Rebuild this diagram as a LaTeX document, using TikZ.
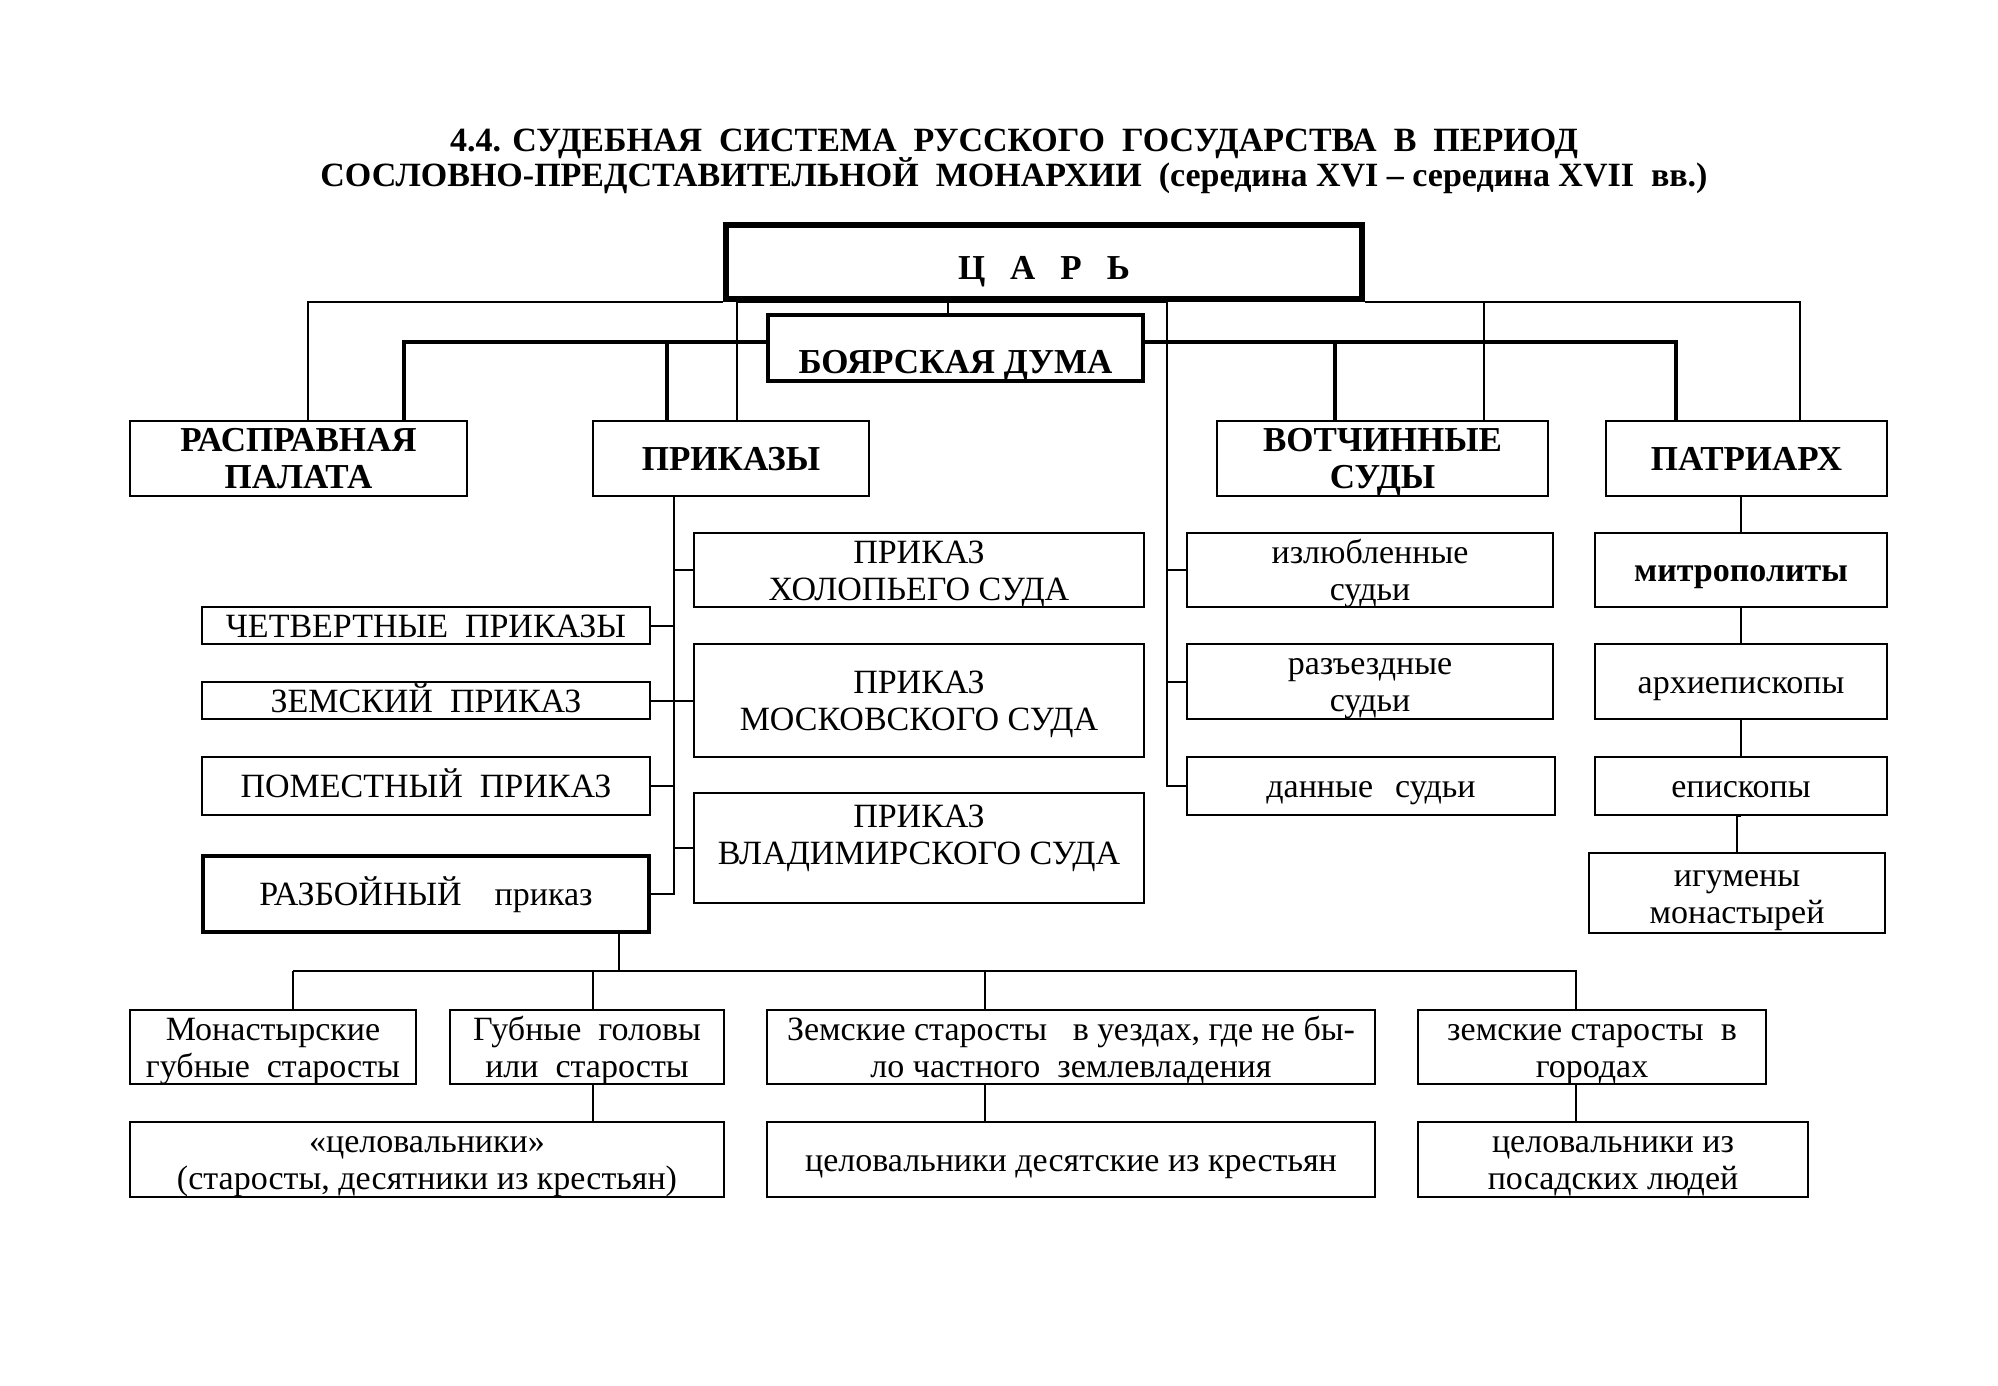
\documentclass[tikz,border=0pt]{standalone}
\usepackage{fontspec}
\setmainfont{Liberation Serif}

\begin{document}
\begin{tikzpicture}[x=1pt,y=-1pt,line width=2pt,
    box/.style={draw,line width=2.4pt,align=center,inner sep=1pt,
                text height=23pt,text depth=0pt,
                font=\fontsize{34}{37}\selectfont},
    two/.style={text height=60pt},
    head/.style={box,font=\fontsize{35}{37}\selectfont\bfseries},
    bold line/.style={line width=3.2pt}]

  \useasboundingbox[fill=white] (0,0) rectangle (1998,1385);

  % title
  \node[anchor=base,font=\fontsize{34}{36}\selectfont\bfseries] (title1) at (1014,151)
    {4.4. СУДЕБНАЯ\ \ СИСТЕМА\ \ РУССКОГО\ \ ГОСУДАРСТВА\ \ В\ \ ПЕРИОД};
  \node[anchor=base,font=\fontsize{34}{36}\selectfont\bfseries] (title2) at (1014,186)
    {СОСЛОВНО-ПРЕДСТАВИТЕЛЬНОЙ\ \ МОНАРХИИ\ \ (середина XVI -- середина XVII\ \ вв.)};

  % top
  \node[head,line width=6pt,minimum width=636pt,minimum height=74pt,
        text height=34pt] (tsar) at (1044,262)
    {Ц\hspace{25pt}А\hspace{25pt}Р\hspace{25pt}Ь};
  \node[head,line width=3.5pt,minimum width=375pt,minimum height=66pt,
        text height=50pt] (duma) at (955.5,348)
    {БОЯРСКАЯ ДУМА};

  \node[head,two,minimum width=337pt,minimum height=75pt] (rasp)  at (298.5,458.5) {РАСПРАВНАЯ\\ПАЛАТА};
  \node[head,minimum width=276pt,minimum height=75pt] (prik)  at (731,458.5)   {ПРИКАЗЫ};
  \node[head,two,minimum width=331pt,minimum height=75pt] (votch) at (1382.5,458.5) {ВОТЧИННЫЕ\\СУДЫ};
  \node[head,minimum width=281pt,minimum height=75pt] (patr)  at (1746.5,458.5) {ПАТРИАРХ};

  % prikazy
  \node[box,minimum width=448pt,minimum height=37pt] (chetv)  at (426,625.5) {ЧЕТВЕРТНЫЕ\ \ ПРИКАЗЫ};
  \node[box,minimum width=448pt,minimum height=37pt] (zemsk)  at (426,700.5) {ЗЕМСКИЙ\ \ ПРИКАЗ};
  \node[box,minimum width=448pt,minimum height=58pt] (pomest) at (426,786)   {ПОМЕСТНЫЙ\ \ ПРИКАЗ};
  \node[box,line width=4.5pt,minimum width=446pt,minimum height=76pt] (razb) at (426,894)
    {РАЗБОЙНЫЙ\hspace{33pt}приказ};
  \node[box,two,minimum width=450pt,minimum height=74pt]  (khol) at (919,570)   {ПРИКАЗ\\ХОЛОПЬЕГО СУДА};
  \node[box,two,minimum width=450pt,minimum height=113pt] (mosk) at (919,700.5) {ПРИКАЗ\\МОСКОВСКОГО СУДА};
  \node[box,text height=33pt,minimum width=450pt,minimum height=110pt] (vlad) at (919,848)
    {ПРИКАЗ\\ВЛАДИМИРСКОГО СУДА};

  % sudi
  \node[box,two,minimum width=366pt,minimum height=74pt] (izl)  at (1370,570)   {излюбленные\\судьи};
  \node[box,two,minimum width=366pt,minimum height=75pt] (razj) at (1370,681.5) {разъездные\\судьи};
  \node[box,minimum width=368pt,minimum height=58pt] (dan)  at (1371,786)   {данные\hspace{22pt}судьи};

  % church
  \node[box,minimum width=292pt,minimum height=74pt] (mitr)  at (1741,570)   {\textbf{митрополиты}};
  \node[box,minimum width=292pt,minimum height=75pt] (arkh)  at (1741,681.5) {архиепископы};
  \node[box,minimum width=292pt,minimum height=58pt] (episk) at (1741,786)   {епископы};
  \node[box,two,minimum width=296pt,minimum height=80pt] (igum)  at (1737,893)   {игумены\\монастырей};

  % bottom
  \node[box,two,minimum width=286pt,minimum height=74pt] (mon)  at (273,1047)  {Монастырские\\губные\ \ старосты};
  \node[box,two,minimum width=274pt,minimum height=74pt] (gub)  at (587,1047)  {Губные\ \ головы\\или\ \ старосты};
  \node[box,two,minimum width=608pt,minimum height=74pt] (zemu) at (1071,1047) {Земские старосты\ \ \ в уездах, где не бы-\\ло частного\ \ землевладения};
  \node[box,two,minimum width=348pt,minimum height=74pt] (gor)  at (1592,1047) {земские старосты\ \ в\\городах};
  \node[box,two,minimum width=594pt,minimum height=75pt] (tsel1) at (427,1159.5)  {«целовальники»\\(старосты, десятники из крестьян)};
  \node[box,minimum width=608pt,minimum height=75pt] (tsel2) at (1071,1159.5) {целовальники десятские из крестьян};
  \node[box,two,minimum width=390pt,minimum height=75pt] (tsel3) at (1613,1159.5) {целовальники из\\посадских людей};

  % tsar lines
  \draw ([xshift=-7.5pt]duma.north) |- (tsar.south);
  \draw (tsar.south west) -| ([xshift=9.5pt]rasp.north);
  \draw ([xshift=6pt]prik.north) |- (tsar.south);
  \draw (tsar.south east) -| ([xshift=53.5pt]patr.north);
  \draw ([xshift=101.5pt]votch.north) |- (tsar.south east);

  % duma lines
  \draw[bold line] ([yshift=6pt]duma.west) -| ([xshift=105.5pt]rasp.north);
  \draw[bold line] ([xshift=-64pt]prik.north) |- ([yshift=6pt]duma.west);
  \draw[bold line] ([yshift=6pt]duma.east) -| ([xshift=-70.5pt]patr.north);
  \draw[bold line] ([xshift=-47.5pt]votch.north) |- ([yshift=6pt]duma.east);

  % prikazy lines
  \coordinate (pv) at ([xshift=-57pt]prik.south);
  \draw (pv) |- (razb.east);
  \draw (chetv.east) -- (chetv.east -| pv);
  \draw (zemsk.east) -- (mosk.west);
  \draw (pomest.east) -- (pomest.east -| pv);
  \draw (khol.west) -- (khol.west -| pv);
  \draw (vlad.west) -- (vlad.west -| pv);

  % sudi lines
  \coordinate (sv) at ([xshift=-19pt]dan.west);
  \draw (dan.west) -- (sv) |- (tsar.south);
  \draw (izl.west) -- (izl.west -| sv);
  \draw (razj.west) -- (razj.west -| sv);

  % church lines
  \draw (mitr.north |- patr.south) -- (mitr.north);
  \draw (mitr) -- (arkh);
  \draw (arkh) -- (episk);
  \draw (episk.south) -- (episk.south -| igum.north) -- (igum.north);

  % bottom lines
  \coordinate (bus) at ([xshift=20pt,yshift=38pt]mon.north);
  \draw (bus) -| ([xshift=-16pt]gor.north);
  \draw (bus) -- ([xshift=20pt]mon.north);
  \draw ([xshift=193pt]razb.south) |- (bus);
  \draw ([xshift=6pt]gub.north) |- (bus);
  \draw ([xshift=-86pt]zemu.north) |- (bus);
  \draw ([xshift=6pt]gub.south) -- ([xshift=6pt]gub.south |- tsel1.north);
  \draw ([xshift=-86pt]zemu.south) -- ([xshift=-86pt]zemu.south |- tsel2.north);
  \draw ([xshift=-16pt]gor.south) -- ([xshift=-16pt]gor.south |- tsel3.north);
\end{tikzpicture}
\end{document}
